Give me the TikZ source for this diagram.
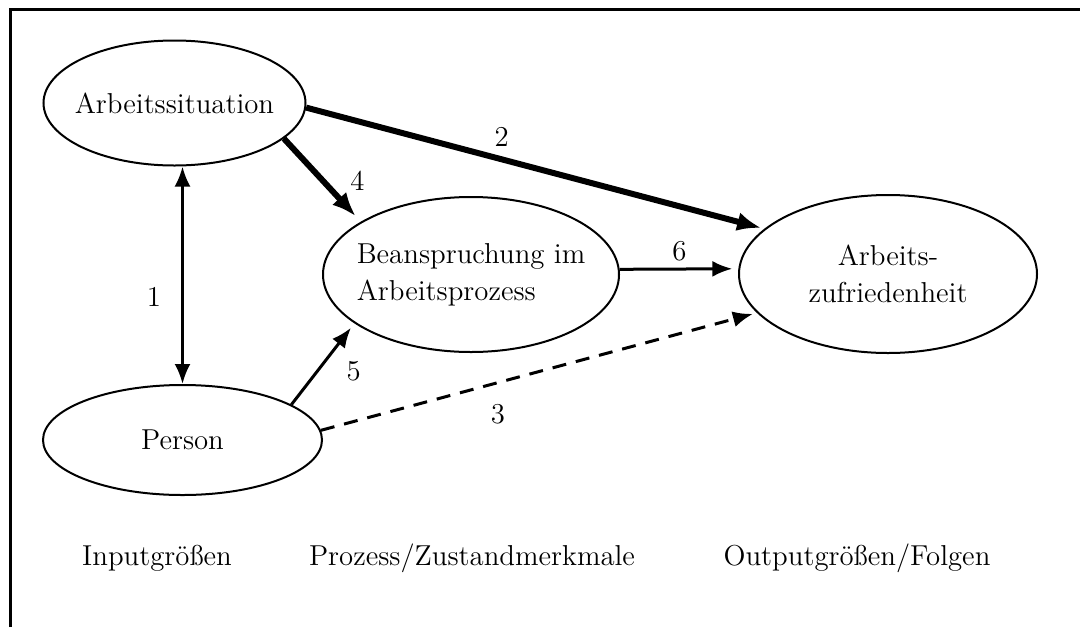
\documentclass[tikz,border=0pt]{standalone}
\usetikzlibrary{shapes.geometric,arrows.meta}
\begin{document}
\begin{tikzpicture}[x=0.5pt,y=-0.5pt,
    font=\fontsize{14.4}{18.5}\selectfont,
    ell/.style={draw,ellipse,line width=1pt,align=center,inner sep=-12pt},
    arr/.style={>={Latex[length=10pt,width=8pt]},line width=1.5pt},
    heavy/.style={>={Latex[length=12pt,width=9.5pt]},line width=3pt},
    lbl/.style={inner sep=2pt}]
    \useasboundingbox (0,0) rectangle (1080,627);
    \draw[line width=1.6pt] (10.5,627) -- (10.5,9.5) -- (1080,9.5);
    % the four ellipses
    \node[ell,minimum width=131pt,minimum height=62.5pt] (sit) at (174.5,103) {Arbeitssituation};
    \node[ell,minimum width=139.5pt,minimum height=55pt] (pers) at (182.5,440) {Person};
    \node[ell,align=left,minimum width=148pt,minimum height=77.5pt] (bean) at (471,274.5) {Beanspruchung im\\Arbeitsprozess};
    \node[ell,minimum width=149pt,minimum height=79pt] (zuf) at (888,274) {Arbeits-\\zufriedenheit};
    % connectors
    \draw[arr,<->] (sit.south -| pers.north) -- (pers.north) node[lbl,pos=0.6,left=8pt] (n1) {1};
    \draw[heavy,->] (sit.-2) -- ([shift={(-3,-1)}]zuf.160.6) node[lbl,pos=0.43,above=3pt] (n2) {2};
    \draw[heavy,->] (sit.-18.2) -- ([shift={(-6,-5)}]bean.154) node[lbl,pos=0.55,right=10pt] (n4) {4};
    \draw[arr,->] (bean.2) -- ([xshift=-3]zuf.178) node[lbl,pos=0.53,above=1pt] (n6) {6};
    \draw[arr,->] (pers.18) -- ([shift={(-4,4)}]bean.203) node[lbl,pos=0.43,right=12pt] (n5) {5};
    \draw[arr,->,dash pattern=on 7pt off 5pt] (pers.4) -- ([shift={(-3,2)}]zuf.196.6) node[lbl,pos=0.41,below=8pt] (n3) {3};
    % column captions
    \node[anchor=base] (in) at (157,565) {Inputgrößen};
    \node[anchor=base] (proz) at (472,565) {Prozess/Zustandmerkmale};
    \node[anchor=base] (out) at (857,565) {Outputgrößen/Folgen};
\end{tikzpicture}
\end{document}
